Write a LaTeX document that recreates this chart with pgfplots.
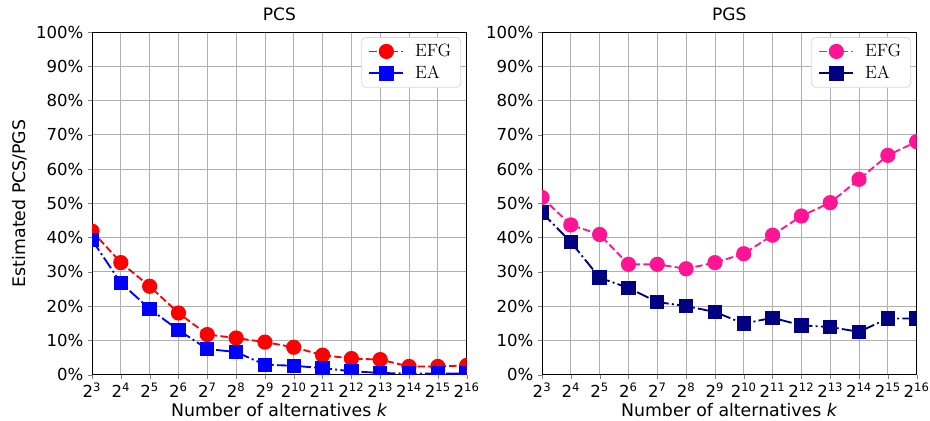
\documentclass[border=0pt]{standalone}
\usepackage{fontspec}
\setsansfont{DejaVu Sans}
\usepackage{pgfplots}
\pgfplotsset{compat=1.18}
\usepackage{pgfplotstable}

\definecolor{efgpink}{HTML}{FF1493}
\definecolor{eanavy}{HTML}{000080}
\definecolor{gridgray}{HTML}{B0B0B0}

% k = 2^x, values in percent
\pgfplotstableread{
x  efg   ea
3  41.9  39.3
4  32.7  26.8
5  25.8  19.2
6  18.0  13.0
7  11.7  7.5
8  10.7  6.6
9  9.5   2.9
10 8.0   2.6
11 5.7   1.9
12 4.7   1.0
13 4.4   0.5
14 2.4   0.3
15 2.4   0.3
16 2.7   0.3
}\pcsdata

\pgfplotstableread{
x  efg   ea
3  51.7  47.3
4  43.7  38.7
5  40.9  28.3
6  32.2  25.3
7  32.2  21.2
8  30.9  20.0
9  32.7  18.3
10 35.3  14.9
11 40.7  16.6
12 46.3  14.4
13 50.2  13.9
14 57.0  12.5
15 64.0  16.4
16 68.0  16.4
}\pgsdata

\pgfplotsset{
  myaxis/.style={
    scale only axis,
    width=281pt, height=257pt,
    xmin=3, xmax=16, ymin=0, ymax=100,
    xtick={3,...,16},
    xticklabels={2\textsuperscript{3},2\textsuperscript{4},2\textsuperscript{5},2\textsuperscript{6},2\textsuperscript{7},2\textsuperscript{8},2\textsuperscript{9},2\textsuperscript{10},2\textsuperscript{11},2\textsuperscript{12},2\textsuperscript{13},2\textsuperscript{14},2\textsuperscript{15},2\textsuperscript{16}},
    ytick={0,10,...,100},
    yticklabel={\pgfmathprintnumber{\tick}\%},
    /pgf/number format/assume math mode=true,
    tick label style={font=\sffamily\fontsize{12.4}{14}\selectfont},
    label style={font=\sffamily\fontsize{13}{15}\selectfont},
    xlabel style={yshift=2.5pt},
    title style={font=\sffamily\fontsize{12.8}{15}\selectfont, yshift=-1pt},
    xlabel={Number of alternatives \textit{k}},
    grid=major,
    major grid style={gridgray, line width=0.6pt},
    axis line style={line width=0.6pt},
    tick align=outside,
    xtick pos=bottom, ytick pos=left,
    major tick length=3pt,
    clip marker paths=true,
    legend cell align=left,
    legend image code/.code={\draw[mark repeat=2, mark phase=2] plot coordinates {(0cm,0cm) (0.45cm,0cm) (0.9cm,0cm)};},
    legend style={font=\rmfamily\fontsize{13.3}{16}\selectfont, draw=gray!30, line width=0.6pt, rounded corners=3pt, inner xsep=5pt, inner ysep=3pt, row sep=1.5pt, /tikz/every odd column/.append style={column sep=6pt}, at={(0.985,0.985)}, anchor=north east},
  },
  efgline/.style={line width=1.4pt, dash pattern=on 5.5pt off 2.4pt, mark=*, mark size=5pt, mark options={solid}},
  ealine/.style={line width=1.4pt, dash pattern=on 9.6pt off 2.4pt on 1.5pt off 2.4pt, mark=square*, mark size=4.7pt, mark options={solid}},
}

\begin{document}
\begin{tikzpicture}
\begin{axis}[myaxis, name=left, title={PCS}, ylabel={Estimated PCS/PGS}]
\addplot[red, efgline] table[x=x, y=efg] {\pcsdata};
\addlegendentry{EFG}
\addplot[blue, ealine] table[x=x, y=ea] {\pcsdata};
\addlegendentry{EA}
\end{axis}
\begin{axis}[myaxis, at={(337.5pt,0)}, title={PGS}]
\addplot[efgpink, efgline] table[x=x, y=efg] {\pgsdata};
\addlegendentry{EFG}
\addplot[eanavy, ealine] table[x=x, y=ea] {\pgsdata};
\addlegendentry{EA}
\end{axis}
\pgfresetboundingbox
\path[use as bounding box] (-69pt,-34.5pt) rectangle (628.5pt,281pt);
\end{tikzpicture}
\end{document}
